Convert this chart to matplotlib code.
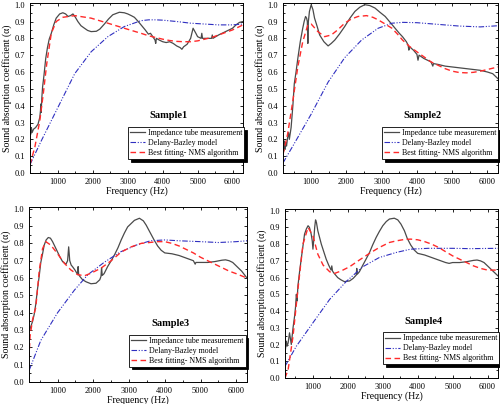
# Sound absorption curves for the four samples (impedance tube / Delany-Bazley / NMS fit)
import matplotlib
matplotlib.use("Agg")
import matplotlib.pyplot as plt

plt.rcParams['font.family'] = ['Liberation Serif', 'DejaVu Serif']

# ---- Sample 1 ----
f1_meas = [200, 220, 240, 260, 300, 360, 430, 480, 500, 510, 520, 540, 560, 600, 650, 700, 750, 810, 880, 950,
           1050, 1140, 1220, 1290, 1360, 1430, 1500, 1570, 1660, 1760, 1850, 1950, 2100, 2200, 2330, 2450,
           2570, 2760, 2900, 3000, 3100, 3190, 3300, 3380, 3500, 3590, 3650, 3700, 3780, 3800, 3820,
           3900, 4000, 4100, 4200, 4300, 4400, 4500, 4550, 4600, 4700, 4800, 4870, 4950, 5000, 5100, 5120,
           5140, 5300, 5400, 5420, 5440, 5600, 5800, 6000, 6100, 6200, 6300]
a1_meas = [0.25, 0.23, 0.27, 0.24, 0.26, 0.27, 0.29, 0.33, 0.37, 0.41, 0.36, 0.45, 0.51, 0.58, 0.68, 0.745, 0.795,
           0.83, 0.88, 0.92, 0.945, 0.952, 0.945, 0.93, 0.935, 0.945, 0.925, 0.90, 0.875, 0.86, 0.847, 0.84,
           0.842, 0.855, 0.885, 0.915, 0.94, 0.955, 0.952, 0.945, 0.935, 0.925, 0.90, 0.88, 0.85, 0.825, 0.83,
           0.815, 0.79, 0.77, 0.80, 0.79, 0.78, 0.775, 0.78, 0.77, 0.755, 0.745, 0.735, 0.75, 0.765, 0.80,
           0.86, 0.83, 0.81, 0.80, 0.83, 0.80, 0.80, 0.80, 0.82, 0.80, 0.82, 0.84, 0.86, 0.88, 0.895, 0.90]
f1_fit = [200, 340, 480, 580, 680, 810, 950, 1140, 1480, 1950, 2430, 2900, 3380, 3600, 3800, 4000, 4200, 4400,
          4600, 4800, 5000, 5200, 5400, 5600, 5800, 6000, 6200, 6300]
a1_fit = [0.05, 0.155, 0.31, 0.47, 0.65, 0.83, 0.90, 0.925, 0.935, 0.92, 0.89, 0.86, 0.83, 0.815, 0.805, 0.795,
          0.787, 0.782, 0.78, 0.78, 0.785, 0.795, 0.805, 0.82, 0.835, 0.85, 0.87, 0.88]
f1_db = [200, 520, 1000, 1480, 1950, 2430, 2900, 3380, 3600, 3800, 4000, 4400, 4800, 5200, 5600, 6000, 6300]
a1_db = [0.05, 0.19, 0.39, 0.59, 0.72, 0.81, 0.87, 0.905, 0.91, 0.91, 0.908, 0.90, 0.89, 0.885, 0.88, 0.88,
         0.885]

# ---- Sample 2 ----
f2_meas = [200, 220, 240, 260, 280, 300, 330, 360, 380, 430, 480, 520, 570, 620, 690, 760, 800, 840, 870, 890,
           905, 920, 950, 1000, 1050, 1095, 1170, 1240, 1360, 1480, 1570, 1670, 1800, 1950, 2100, 2240, 2380,
           2520, 2660, 2810, 2950, 3100, 3240, 3380, 3500, 3590, 3700, 3750, 3770, 3790, 3900,
           4000, 4030, 4060, 4200, 4400, 4450, 4470, 4600, 4800, 5000, 5200, 5400, 5600, 5800, 6000, 6150,
           6300]
a2_meas = [0.15, 0.13, 0.19, 0.14, 0.18, 0.16, 0.21, 0.24, 0.20, 0.27, 0.40, 0.53, 0.60, 0.68, 0.78, 0.86, 0.90,
           0.93, 0.92, 0.90, 0.77, 0.90, 0.96, 1.00, 0.97, 0.92, 0.87, 0.82, 0.78, 0.755, 0.77, 0.79, 0.825,
           0.87, 0.92, 0.96, 0.985, 1.00, 0.995, 0.98, 0.955, 0.93, 0.895, 0.86, 0.83, 0.81, 0.78, 0.76, 0.73,
           0.75, 0.73, 0.705, 0.67, 0.70, 0.68, 0.66, 0.635, 0.65, 0.645, 0.635, 0.63, 0.625, 0.62, 0.615,
           0.61, 0.60, 0.59, 0.56]
f2_fit = [200, 330, 480, 620, 760, 905, 1000, 1190, 1380, 1570, 1750, 1950, 2140, 2330, 2570, 2750, 2900, 3100,
          3290, 3450, 3590, 3800, 4000, 4200, 4400, 4600, 4800, 5000, 5200, 5400, 5600, 5800, 6000, 6300]
a2_fit = [0.11, 0.23, 0.43, 0.63, 0.78, 0.88, 0.885, 0.84, 0.81, 0.82, 0.85, 0.89, 0.915, 0.93, 0.935, 0.925,
          0.91, 0.885, 0.86, 0.825, 0.79, 0.75, 0.72, 0.69, 0.66, 0.64, 0.62, 0.605, 0.597, 0.595, 0.598,
          0.605, 0.615, 0.63]
f2_db = [200, 520, 1000, 1480, 1950, 2430, 2900, 3290, 3600, 4000, 4600, 5200, 5800, 6300]
a2_db = [0.06, 0.175, 0.35, 0.54, 0.685, 0.79, 0.86, 0.89, 0.895, 0.893, 0.883, 0.873, 0.868, 0.875]

# ---- Sample 3 ----
f3_meas = [200, 220, 250, 300, 345, 390, 440, 485, 530, 580, 625, 680, 740, 800, 860, 930, 1000, 1070, 1140,
           1235, 1280, 1310, 1340, 1380, 1420, 1490, 1560, 1575, 1590, 1620, 1700, 1800, 1935, 2075, 2180,
           2215, 2230, 2250, 2300, 2400, 2500, 2590, 2690, 2780, 2870, 2960, 3060, 3150, 3290, 3400, 3480,
           3570, 3700, 3800, 3900, 4000, 4200, 4400, 4600, 4800, 4850, 4870, 5000, 5200, 5400, 5600, 5700,
           5800, 5900, 6000, 6150, 6300]
a3_meas = [0.29, 0.30, 0.32, 0.35, 0.39, 0.45, 0.54, 0.61, 0.69, 0.74, 0.79, 0.82, 0.834, 0.83, 0.81, 0.78,
           0.75, 0.72, 0.695, 0.68, 0.70, 0.78, 0.70, 0.675, 0.665, 0.645, 0.62, 0.666, 0.62, 0.61, 0.59,
           0.578, 0.567, 0.57, 0.59, 0.61, 0.66, 0.615, 0.625, 0.666, 0.70, 0.733, 0.775, 0.82, 0.86, 0.895,
           0.915, 0.933, 0.945, 0.93, 0.905, 0.87, 0.82, 0.785, 0.76, 0.745, 0.74, 0.73, 0.715, 0.70, 0.68,
           0.69, 0.69, 0.69, 0.695, 0.703, 0.705, 0.70, 0.69, 0.67, 0.64, 0.60]
f3_fit = [200, 230, 300, 390, 485, 580, 670, 810, 1000, 1190, 1370, 1560, 1750, 1935, 2215, 2500, 2780, 3060,
          3340, 3570, 3800, 4000, 4200, 4400, 4600, 4800, 5000, 5200, 5400, 5600, 5800, 6000, 6300]
a3_fit = [0.14, 0.265, 0.36, 0.43, 0.64, 0.77, 0.81, 0.79, 0.74, 0.685, 0.647, 0.62, 0.613, 0.628, 0.657, 0.70,
          0.75, 0.78, 0.80, 0.805, 0.81, 0.81, 0.80, 0.785, 0.765, 0.745, 0.72, 0.70, 0.68, 0.66, 0.64,
          0.625, 0.60]
f3_db = [200, 530, 1000, 1470, 1850, 2300, 2750, 3200, 3600, 4000, 4400, 5000, 5500, 6000, 6300]
a3_db = [0.065, 0.24, 0.40, 0.53, 0.62, 0.69, 0.75, 0.79, 0.815, 0.82, 0.815, 0.81, 0.805, 0.81, 0.815]

# ---- Sample 4 ----
f4_meas = [200, 240, 260, 290, 330, 380, 430, 475, 500, 525, 545, 570, 620, 670, 715, 760, 810, 860, 900, 950,
           980, 1000, 1030, 1050, 1075, 1100, 1140, 1190, 1240, 1310, 1380, 1450, 1520, 1540, 1560, 1590,
           1650, 1710, 1800, 1900, 2050, 2150, 2240, 2255, 2270, 2330, 2430, 2520, 2620, 2710, 2810, 2900,
           3000, 3100, 3190, 3330, 3430, 3520, 3620, 3700, 3800, 3900, 4000, 4200, 4400, 4600, 4800, 4900,
           5000, 5200, 5400, 5600, 5700, 5800, 5900, 6000, 6150, 6300]
a4_meas = [0.15, 0.22, 0.19, 0.21, 0.27, 0.20, 0.30, 0.37, 0.42, 0.50, 0.46, 0.55, 0.64, 0.72, 0.79, 0.86, 0.89,
           0.91, 0.90, 0.86, 0.82, 0.77, 0.84, 0.90, 0.945, 0.93, 0.88, 0.84, 0.80, 0.755, 0.71, 0.675, 0.645,
           0.67, 0.64, 0.63, 0.615, 0.60, 0.587, 0.576, 0.58, 0.595, 0.615, 0.655, 0.62, 0.635, 0.675, 0.71,
           0.75, 0.795, 0.84, 0.875, 0.91, 0.935, 0.95, 0.955, 0.945, 0.92, 0.88, 0.835, 0.795, 0.765, 0.745,
           0.735, 0.72, 0.705, 0.69, 0.685, 0.69, 0.69, 0.695, 0.703, 0.705, 0.70, 0.69, 0.67, 0.64, 0.61]
f4_fit = [200, 290, 430, 570, 715, 860, 1000, 1140, 1290, 1480, 1620, 1810, 2050, 2330, 2620, 2900, 3190, 3400,
          3620, 3800, 4000, 4200, 4400, 4600, 4800, 5000, 5200, 5400, 5600, 5800, 6000, 6300]
a4_fit = [0.0, 0.05, 0.25, 0.53, 0.80, 0.90, 0.85, 0.74, 0.675, 0.635, 0.625, 0.64, 0.665, 0.705, 0.745, 0.78,
          0.81, 0.82, 0.828, 0.83, 0.826, 0.815, 0.80, 0.78, 0.755, 0.73, 0.71, 0.69, 0.67, 0.655, 0.645,
          0.645]
f4_db = [200, 525, 1000, 1480, 1950, 2430, 2900, 3380, 3800, 4300, 5000, 5500, 6300]
a4_db = [0.07, 0.19, 0.33, 0.47, 0.576, 0.665, 0.72, 0.75, 0.77, 0.775, 0.775, 0.773, 0.775]

samples = [
    ("Sample1", f1_meas, a1_meas, f1_db, a1_db, f1_fit, a1_fit),
    ("Sample2", f2_meas, a2_meas, f2_db, a2_db, f2_fit, a2_fit),
    ("Sample3", f3_meas, a3_meas, f3_db, a3_db, f3_fit, a3_fit),
    ("Sample4", f4_meas, a4_meas, f4_db, a4_db, f4_fit, a4_fit),
]

# axes boxes in pixels (left, top, right, bottom)
W, H = 500, 404
boxes = [(30, 3, 243, 173), (283, 3, 498, 173), (29, 207, 247, 382), (285, 209, 498, 378)]

fig = plt.figure(figsize=(W / 100, H / 100), dpi=100)

for (name, fm, am, fd, ad, ff, af), (l, t, r, b) in zip(samples, boxes):
    ax = fig.add_axes([l / W, 1 - b / H, (r - l) / W, (b - t) / H])
    ax.plot(fm, am, color='#4a4a4a', lw=0.9, label='Impedance tube measurement')
    ax.plot(fd, ad, color='#2f2fc0', lw=0.8, dashes=(5, 1.5, 1, 1.5, 1, 1.5), label='Delany-Bazley model')
    ax.plot(ff, af, color='#ff2a2a', lw=1.0, dashes=(4, 2.5), label='Best fitting- NMS algorithm')

    ax.set_xlim(200, 6300)
    ax.set_ylim(0, 1.01)
    ax.set_xticks([1000, 2000, 3000, 4000, 5000, 6000])
    ax.set_xticks(range(500, 6300, 1000), minor=True)
    ax.set_yticks([i / 10 for i in range(11)])
    ax.set_yticks([i / 20 for i in range(1, 20, 2)], minor=True)
    ax.set_yticklabels(['%.1f' % (i / 10) for i in range(11)])
    ax.tick_params(which='both', direction='in', right=True, top=True, labelsize=6, length=2.5, width=0.6)
    ax.tick_params(which='minor', length=1.5)
    for s in ax.spines.values():
        s.set_linewidth(0.7)

    ax.set_xlabel('Frequency (Hz)', fontsize=7, labelpad=0.5)
    ax.set_ylabel('Sound absorption coefficient (α)', fontsize=7, labelpad=2)

    ax.text(0.65, 0.31, name, transform=ax.transAxes, ha='center', va='bottom',
            fontsize=7.5, fontweight='bold')
    leg = ax.legend(loc='upper left', bbox_to_anchor=(0.46, 0.27), fontsize=5.7, frameon=True,
                    fancybox=False, shadow={'color': 'black', 'alpha': 1.0}, edgecolor='black',
                    handlelength=1.9, handletextpad=0.35, borderpad=0.25, labelspacing=0.25,
                    borderaxespad=0)
    leg.get_frame().set_linewidth(0.6)

plt.savefig('out.png', dpi=100)
